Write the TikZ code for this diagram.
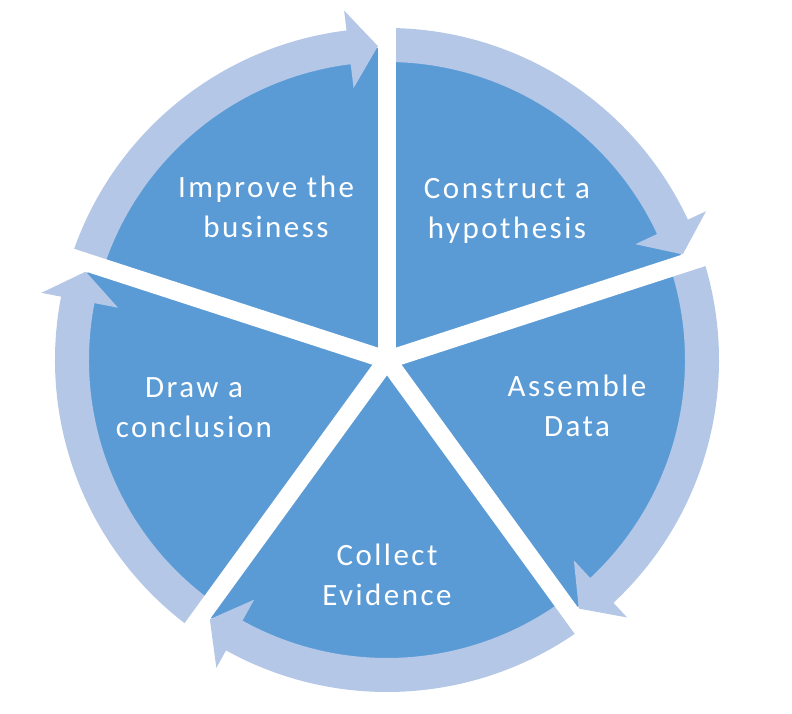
\documentclass[tikz,border=0pt]{standalone}
\usepackage{fontspec}
\setmainfont{Carlito}[LetterSpace=8]
\definecolor{piefill}{HTML}{5B9BD5}
\definecolor{ringfill}{HTML}{B4C7E7}

\begin{document}
\begin{tikzpicture}[x=1pt,y=1pt]
\tikzstyle{cyclelabel}=[text=white, align=center, anchor=base, inner sep=0pt,
	font=\fontsize{31}{40}\selectfont]
\tikzstyle{gapline}=[white, line width=18pt]
\useasboundingbox (-387,-354) rectangle (405,360);
% pie under everything
\fill[piefill] (0,0) circle (312);
% ring arrows, one per step, clockwise
\foreach \s in {90,18,-54,-126,-198}{
	\pgfmathsetmacro{\b}{\s-72+7}
	\pgfmathsetmacro{\t}{\s-72+1.65}
	\fill[ringfill] (\s:332) arc[start angle=\s, end angle=\b, radius=332]
		-- (\b:352) -- (\t:314) -- (\b:274) -- (\b:298)
		arc[start angle=\b, end angle=\s, radius=298] -- cycle;
}
% white gaps between the wedges
\foreach \g in {90,18,-54,-126,-198}
	\draw[gapline] (0,0) -- (\g:370);
% step texts (anchored on the last line)
\node[cyclelabel] (improve) at (-121,122) {Improve the\\business};
\node[cyclelabel] (construct) at (120,121) {Construct a\\hypothesis};
\node[cyclelabel] (assemble) at (190,-77) {Assemble\\Data};
\node[cyclelabel] (collect) at (0,-245) {Collect\\Evidence};
\node[cyclelabel] (draw) at (-193,-78) {Draw a\\conclusion};
\end{tikzpicture}
\end{document}
